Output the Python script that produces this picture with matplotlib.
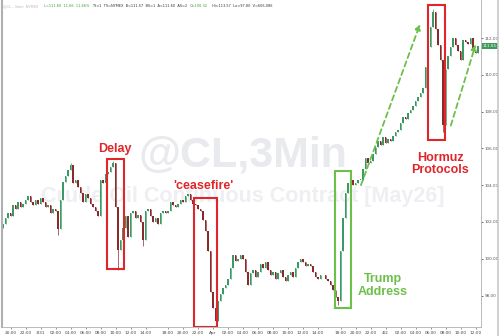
import matplotlib
matplotlib.use('Agg')
import matplotlib.pyplot as plt
from matplotlib.patches import Rectangle

# 20-minute closes, three sessions (3/30 19:00 -> 4/2 12:20), daily break removed
closes = [
    101.9, 102.2, 102.5, 102.3, 102.9, 102.7, 103.1, 102.8, 103.0, 103.2,
    103.4, 103.1, 102.9, 103.2, 103.0, 103.3, 103.1, 102.8, 102.9, 102.5,
    102.7, 102.6, 101.6, 103.2, 104.2, 104.5, 104.8, 105.1, 104.1, 104.3,
    103.9, 103.6, 103.1, 103.5, 103.3, 103.0, 102.8, 102.6, 102.3, 104.3,
    104.1, 104.6, 104.7, 105.0, 105.2, 102.8, 100.5, 101.0, 101.7, 102.3,
    101.2, 102.5, 102.6, 102.2, 102.4, 102.0, 101.0, 102.6, 102.7, 102.3,
    102.0, 102.2, 101.9, 102.5, 102.6, 102.5,
    102.6, 103.1, 102.9, 102.8, 103.0, 103.2, 103.1, 103.4, 103.5, 103.2,
    103.0, 102.9, 102.7, 102.6, 102.1, 101.5, 100.4, 98.2, 97.3, 96.6,
    97.7, 98.1, 98.4, 98.6, 98.9, 99.5, 100.2, 99.9, 100.0, 100.2,
    100.0, 99.3, 98.6, 99.2, 99.4, 99.0, 99.3, 99.7, 99.5, 99.8,
    99.4, 99.1, 99.3, 98.9, 99.2, 99.4, 99.0, 98.8, 99.1, 99.3,
    99.0, 99.5, 99.8, 100.0, 99.8, 99.6, 99.7, 99.6, 99.3, 99.0,
    98.9, 99.1, 99.1, 98.9, 98.8, 98.6, 98.3, 97.9, 97.7,
    100.4, 102.2, 103.6, 104.1, 104.3, 104.0, 104.1, 104.3, 104.3, 104.9,
    105.5, 105.2, 105.3, 105.7, 106.1, 106.4, 106.2, 106.6, 106.3, 106.5,
    106.4, 106.7, 106.9, 107.0, 107.4, 107.7, 107.6, 107.9, 108.1, 108.3,
    108.6, 108.8, 109.0, 109.3, 110.4, 111.5, 112.6, 113.4, 112.5, 111.6,
    110.8, 107.3, 110.3, 111.0, 111.5, 112.0, 111.6, 111.3, 110.8, 111.9,
    111.8, 111.7, 112.0, 111.3, 111.2, 111.55,
]
first_open = 101.7
wick_low = {22: 101.3, 46: 99.4, 56: 100.7, 85: 96.3, 134: 97.5, 176: 106.9}
wick_high = {27: 105.2, 44: 105.3, 172: 113.6}

tick_pos = [3, 9, 15, 21, 27, 33, 39, 45, 51, 57,
            66, 72, 78, 84, 90, 96, 102, 108, 114, 120, 126,
            135, 141, 147, 153, 159, 165, 171, 177, 183, 189]
tick_labels = ['20:00', '22:00', '3/31', '02:00', '04:00', '06:00', '08:00', '10:00', '12:00', '14:00',
               '18:00', '20:00', '22:00', 'Apr', '02:00', '04:00', '06:00', '08:00', '10:00', '12:00', '14:00',
               '18:00', '20:00', '22:00', '4/2', '02:00', '04:00', '06:00', '08:00', '10:00', '12:00']
price_ticks = [98, 100, 102, 104, 106, 108, 110, 112]

opens = [first_open] + closes[:-1]
up_col = '#3b9a63'
dn_col = '#8a2a2a'

fig = plt.figure(figsize=(5, 3.36), dpi=100)
ax = fig.add_axes([2 / 500, 9 / 336, 479 / 500, 327 / 336])

for i, (o, c) in enumerate(zip(opens, closes)):
    col = up_col if c >= o else dn_col
    hi = wick_high.get(i, max(o, c))
    lo = wick_low.get(i, min(o, c))
    ax.vlines(i, lo, hi, color=col, lw=0.5)
    ax.bar(i, max(abs(c - o), 0.03), bottom=min(o, c), width=0.55, color=col, lw=0)

ax.set_xlim(-0.4, 191.2)
ax.set_ylim(96.29, 114.07)

# watermark
ax.text(0.503, 0.525, '@CL,3Min', transform=ax.transAxes, ha='center', va='center',
        fontsize=31, fontweight='bold', color='#e9eaee', family='Liberation Sans', zorder=0)
ax.text(0.503, 0.40, 'Crude Oil Continuous Contract [May26]', transform=ax.transAxes,
        ha='center', va='center', fontsize=15.5, fontweight='bold', color='#eeeff2',
        family='Liberation Sans', zorder=0)

red = '#e0262b'
green = '#6cc04a'
boxes = [(41.6, 99.44, 6.8, 5.98, red), (76.4, 96.3, 9.2, 7.0, red),
         (132.8, 97.33, 6.4, 7.44, green), (170.0, 106.46, 6.8, 7.34, red)]
for x0, y0, w, h, col in boxes:
    ax.add_patch(Rectangle((x0, y0), w, h, fill=False, ec=col, lw=1.5, zorder=5))

ax.text(44.8, 105.95, 'Delay', color=red, fontsize=9, fontweight='bold', ha='center', va='center',
        family='Liberation Sans')
ax.text(80.0, 103.95, "'ceasefire'", color=red, fontsize=9, fontweight='bold', ha='center', va='center',
        family='Liberation Sans')
ax.text(152.0, 98.55, 'Trump\nAddress', color=green, fontsize=9, fontweight='bold', ha='center',
        va='center', linespacing=1.05, family='Liberation Sans')
ax.text(175.0, 105.15, 'Hormuz\nProtocols', color=red, fontsize=9, fontweight='bold', ha='center',
        va='center', linespacing=1.05, family='Liberation Sans')

arrow = dict(arrowstyle='-|>', color=green, lw=1.3, ls=(0, (3, 2)), mutation_scale=8)
ax.annotate('', xy=(167.2, 112.9), xytext=(142.8, 103.86), arrowprops=arrow)
ax.annotate('', xy=(189.4, 111.8), xytext=(178.8, 107.1), arrowprops=arrow)

# axes styling
ax.yaxis.tick_right()
ax.set_yticks(price_ticks)
ax.set_yticklabels(['%.2f' % p for p in price_ticks], fontsize=3.0, color='#555555')
ax.set_xticks(tick_pos)
ax.set_xticklabels(tick_labels, fontsize=3.1, color='#444444')
ax.tick_params(axis='x', length=1.5, width=0.4, pad=1.5, colors='#444444')
ax.tick_params(axis='y', length=1.2, width=0.4, pad=1.2)
ax.spines['top'].set_visible(False)
for s in ['left', 'right', 'bottom']:
    ax.spines[s].set_color('#b0b0b0')
    ax.spines[s].set_linewidth(0.6)
ax.spines['left'].set_linewidth(1.5)

ax.text(1.004, closes[-1], '%.2f' % closes[-1], transform=ax.get_yaxis_transform(),
        fontsize=3.0, color='white', va='center', ha='left',
        bbox=dict(boxstyle='square,pad=0.25', fc='#3d9a5b', ec='none'))

# header line
hdr = [('@CL - 3min  NYMEX', 3, '#b5b5b5'), ('L=111.60  11.66  11.66%', 44, '#3b9a3b'),
       ('TS=1  TS=NYMEX  B=111.57  BS=1  A=111.60  AS=2', 92, '#333333'),
       ('O=100.32', 190, '#3b9a3b'), ('Hi=113.57  Lo=97.80  V=606,086', 212, '#333333')]
for txt, px, col in hdr:
    fig.text(px / 500, 1 - 6 / 336, txt, fontsize=2.5, color=col, va='center', ha='left')

fig.add_artist(plt.Line2D([498 / 500, 498 / 500], [0, 1], color='#c8c8c8', lw=1.2))

fig.savefig('out.png', dpi=100)
